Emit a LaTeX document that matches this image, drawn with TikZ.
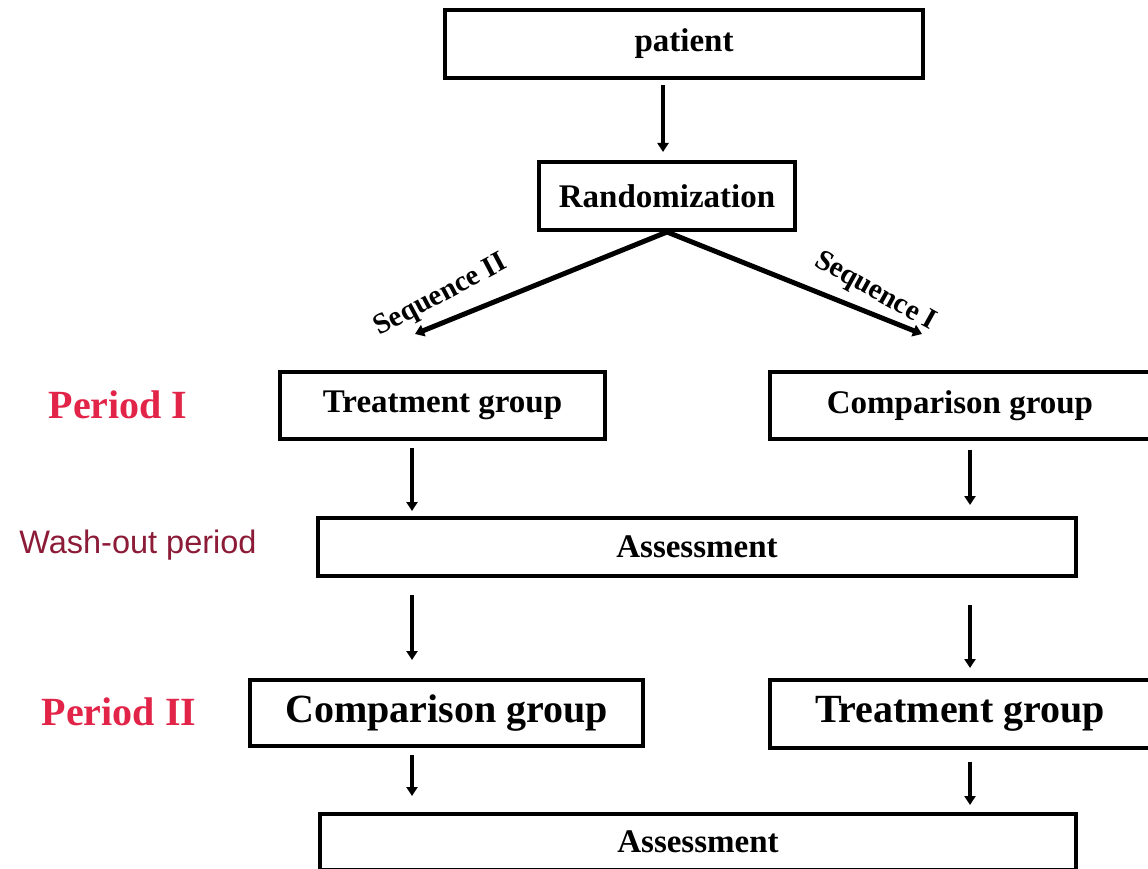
\documentclass[tikz,border=0pt]{standalone}
\usepackage{fontspec}
\setmainfont{Liberation Serif}
\newfontfamily\washfont{Liberation Sans}
\usepackage{xcolor}
\usetikzlibrary{arrows.meta}
\definecolor{periodred}{RGB}{225,36,72}
\definecolor{washred}{RGB}{140,27,56}

\tikzset{
  grpbox/.style={draw, line width=4pt, inner sep=0pt, font=\bfseries\fontsize{33}{36}\selectfont},
  bigbox/.style={grpbox, font=\bfseries\fontsize{40}{44}\selectfont},
  flow/.style={line width=3.4pt, -{Triangle[length=9pt,width=11pt]}},
  seqline/.style={line width=5pt, -{Triangle[length=9pt,width=12pt]}},
  seqtext/.style={font=\bfseries\fontsize{29}{32}\selectfont},
  periodlbl/.style={text=periodred, font=\bfseries\fontsize{40}{44}\selectfont}
}

\begin{document}
\begin{tikzpicture}[x=1pt,y=-1pt]
        \useasboundingbox (0,0) rectangle (1148,869);
        \clip (0,0) rectangle (1148,869);

        \node[grpbox, minimum width=478pt, minimum height=68pt] (patient) at (684,44) {patient};
        \node[grpbox, minimum width=256pt, minimum height=68pt] (rand) at (667,196) {Randomization};

        \node[grpbox, minimum width=325pt, minimum height=67pt] (treatA) at (442.5,405.5) {Treatment group};
        \node[grpbox, minimum width=380pt, minimum height=67pt] (compA) at (960,405.5) {Comparison group};
        \node[grpbox, minimum width=758pt, minimum height=58pt] (assessA) at (697,547) {Assessment};

        \node[bigbox, minimum width=393pt, minimum height=66pt] (compB) at (446.5,713) {Comparison group};
        \node[bigbox, minimum width=380pt, minimum height=68pt] (treatB) at (960,714) {Treatment group};
        \node[grpbox, minimum width=756pt, minimum height=56pt] (assessB) at (698,842) {Assessment};

        % labels on the left
        \node[periodlbl] (periodI) at (118,405) {Period I};
        \node[text=washred, font=\washfont\fontsize{32.5}{35}\selectfont] (wash) at (138,545) {Wash-out period};
        \node[periodlbl] (periodII) at (119,712) {Period II};

        % columns of the arrows
        \coordinate (colT) at (663,0);
        \coordinate (colL) at (412,0);
        \coordinate (colR) at (970,0);
        \coordinate (seqL) at (415,334);
        \coordinate (seqR) at (922,334);

        \draw[flow] ([yshift=-5pt]patient.south -| colT) -- ([yshift=8pt]rand.north -| colT);

        \draw[seqline] (rand.south) -- (seqL);
        \draw[seqline] (rand.south) -- (seqR);
        \node[seqtext, rotate=28] (seqIItxt) at (441,296) {Sequence II};
        \node[seqtext, rotate=-29] (seqItxt) at (875,292) {Sequence I};

        \draw[flow] ([yshift=-7pt]treatA.south -| colL) -- ([yshift=5pt]assessA.north -| colL);
        \draw[flow] ([yshift=-17pt]assessA.south -| colL) -- ([yshift=18pt]compB.north -| colL);
        \draw[flow] ([yshift=-7pt]compB.south -| colL) -- ([yshift=16pt]assessB.north -| colL);

        \draw[flow] ([yshift=-9pt]compA.south -| colR) -- ([yshift=11pt]assessA.north -| colR);
        \draw[flow] ([yshift=-27pt]assessA.south -| colR) -- ([yshift=10pt]treatB.north -| colR);
        \draw[flow] ([yshift=-12pt]treatB.south -| colR) -- ([yshift=7pt]assessB.north -| colR);
\end{tikzpicture}
\end{document}
